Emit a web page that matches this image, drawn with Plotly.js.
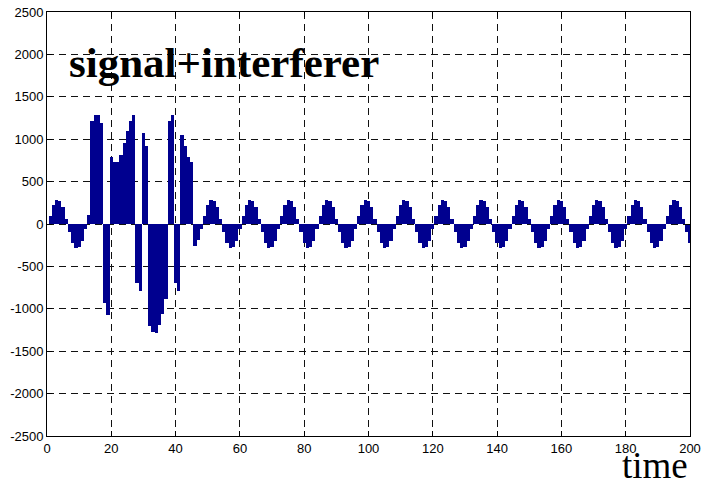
<!DOCTYPE html>
<html><head><meta charset="utf-8">
<script src="https://cdn.plot.ly/plotly-3.0.1.min.js"></script>
<style>html,body{margin:0;padding:0;background:#fff}#chart{width:706px;height:488px}</style>
</head><body><div id="chart"></div>
<script>
// sample index (time) 1..200
const time = Array.from({length: 200}, (_, i) => i + 1);

// signal + interferer values
const amplitude = [
  100, 227, 285, 274, 200, 64, -100, -227, -285, -274, -200, -64,
  109, 1218, 1288, 1285, 1195, -927, -1071, 792, 729, 729, 819, 955,
  1098, 1218, 1288, -695, -791, 1071, 916, -1200, -1270, -1290, -1190, -1060,
  -890, 1218, 1288, -695, -791, 1055, 923, 792, 733, -260, -190, -60,
  100, 227, 285, 274, 200, 64, -100, -227, -285, -274, -200, -64,
  100, 227, 285, 274, 200, 64, -100, -227, -285, -274, -200, -64,
  100, 227, 285, 274, 200, 64, -100, -227, -285, -274, -200, -64,
  100, 227, 285, 274, 200, 64, -100, -227, -285, -274, -200, -64,
  100, 227, 285, 274, 200, 64, -100, -227, -285, -274, -200, -64,
  100, 227, 285, 274, 200, 64, -100, -227, -285, -274, -200, -64,
  100, 227, 285, 274, 200, 64, -100, -227, -285, -274, -200, -64,
  100, 227, 285, 274, 200, 64, -100, -227, -285, -274, -200, -64,
  100, 227, 285, 274, 200, 64, -100, -227, -285, -274, -200, -64,
  100, 227, 285, 274, 200, 64, -100, -227, -285, -274, -200, -64,
  100, 227, 285, 274, 200, 64, -100, -227, -285, -274, -200, -64,
  100, 227, 285, 274, 200, 64, -100, -227, -285, -274, -200, -64,
  100, 227, 285, 274, 200, 64, -100, -227
];

const xTicks = [0, 20, 40, 60, 80, 100, 120, 140, 160, 180, 200];
const yTicks = [-2500, -2000, -1500, -1000, -500, 0, 500, 1000, 1500, 2000, 2500];
const titleText = 'signal+interferer';
const xLabel = 'time';

const trace = {
  type: 'bar',
  x: time,
  y: amplitude,
  marker: {color: '#00008f', line: {width: 0}},
  hoverinfo: 'x+y'
};

const axisCommon = {
  showline: true, linecolor: '#000', linewidth: 1, mirror: 'ticks',
  ticks: 'inside', ticklen: 5, tickcolor: '#000',
  showgrid: true, gridcolor: '#111', gridwidth: 1, griddash: '7px,5px',
  zeroline: false,
  tickfont: {family: 'Liberation Sans, Arial, sans-serif', size: 13, color: '#000'}
};

const layout = {
  width: 706, height: 488,
  margin: {l: 47, r: 16, t: 12, b: 52},
  paper_bgcolor: '#fff', plot_bgcolor: '#fff',
  bargap: 0,
  showlegend: false,
  xaxis: Object.assign({}, axisCommon, {
    range: [0, 200], tickvals: xTicks, ticktext: xTicks.map(String)
  }),
  yaxis: Object.assign({}, axisCommon, {
    range: [-2500, 2500], tickvals: yTicks, ticktext: yTicks.map(String)
  }),
  annotations: [
    {text: '<b>' + titleText + '</b>', xref: 'paper', yref: 'paper',
     x: 0.031, y: 0.88, xanchor: 'left', yanchor: 'middle', showarrow: false,
     font: {family: 'Liberation Serif, Times New Roman, serif', size: 43, color: '#000'}},
    {text: xLabel, xref: 'paper', yref: 'paper',
     x: 0.998, y: -0.121, xanchor: 'right', yanchor: 'bottom', showarrow: false,
     borderpad: 0,
     font: {family: 'Liberation Serif, Times New Roman, serif', size: 37, color: '#000'}}
  ]
};

Plotly.newPlot('chart', [trace], layout, {displayModeBar: false, staticPlot: true});
</script>
</body></html>
